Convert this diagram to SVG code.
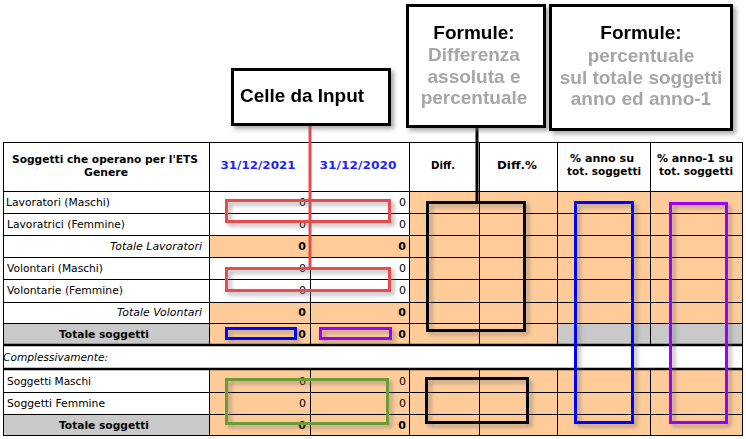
<svg xmlns="http://www.w3.org/2000/svg" width="746" height="439" viewBox="0 0 746 439">
<defs>
<style>
.t{font-family:"DejaVu Sans",Verdana,sans-serif;font-size:11px;fill:#000}
.b{font-weight:bold}
.i{font-style:italic}
.m{text-anchor:middle}
.e{text-anchor:end}
.date{fill:#1f1fff;font-weight:bold}
.or{fill:#ffcc99}
.gr{fill:#c9c9c9}
.wh{fill:#fff}
.grid{stroke:#000;stroke-width:1;fill:none}
.thick{stroke:#000;stroke-width:2.5}
.call{fill:#fff;stroke:#000;stroke-width:3}
.ct{font-family:"Liberation Sans",Arial,sans-serif;font-size:19px;font-weight:bold;text-anchor:middle}
.ctk{fill:#000}
.ctg{fill:#a6a6a6}
.hl{fill:none;stroke-width:3}
</style>
<filter id="sh" x="-20%" y="-20%" width="140%" height="140%">
<feDropShadow dx="3" dy="3" stdDeviation="2" flood-color="#707070" flood-opacity="0.6"/>
</filter>
</defs>
<rect width="746" height="439" fill="#fff"/>

<g id="table">
<!-- fills -->
<rect class="or" x="409" y="191" width="334" height="154"/>
<rect class="or" x="209" y="235" width="200" height="22"/>
<rect class="or" x="209" y="302" width="200" height="43"/>
<rect class="gr" x="3" y="323" width="206" height="22"/>
<rect class="gr" x="557" y="323" width="186" height="22"/>
<rect class="or" x="209" y="369" width="534" height="67"/>
<rect class="gr" x="3" y="414" width="206" height="22"/>
<!-- grid -->
<g class="grid">
<path d="M3 142.5H743M3 191.5H743M3 213.5H743M3 235.5H743M3 257.5H743M3 279.5H743M3 302.5H743M3 323.5H743M3 392.5H743M3 414.5H743M3 435.5H743"/>
<path d="M3.5 142V436M742.5 142V436"/>
<path d="M209.5 142V345M310.5 142V345M409.5 142V345M479.5 142V345M557.5 142V345M650.5 142V345"/>
<path d="M209.5 369V436M310.5 369V436M409.5 369V436M479.5 369V436M557.5 369V436M650.5 369V436"/>
</g>
<path class="thick" d="M3 345H743M3 369H743"/>
<!-- header texts -->
<text class="t b m" x="105" y="163" textLength="186" lengthAdjust="spacingAndGlyphs">Soggetti che operano per l'ETS</text>
<text class="t b m" x="106" y="176" textLength="44" lengthAdjust="spacingAndGlyphs">Genere</text>
<text class="t date m" x="258" y="169" textLength="75" lengthAdjust="spacingAndGlyphs">31/12/2021</text>
<text class="t date m" x="358" y="169" textLength="77" lengthAdjust="spacingAndGlyphs">31/12/2020</text>
<text class="t b m" x="443" y="169" textLength="24" lengthAdjust="spacingAndGlyphs">Diff.</text>
<text class="t b m" x="517" y="169" textLength="40" lengthAdjust="spacingAndGlyphs">Diff.%</text>
<text class="t b m" x="602" y="162" textLength="64" lengthAdjust="spacingAndGlyphs">% anno su</text>
<text class="t b m" x="604" y="175" textLength="74" lengthAdjust="spacingAndGlyphs">tot. soggetti</text>
<text class="t b m" x="695" y="162" textLength="76" lengthAdjust="spacingAndGlyphs">% anno-1 su</text>
<text class="t b m" x="696" y="175" textLength="74" lengthAdjust="spacingAndGlyphs">tot. soggetti</text>
<!-- row labels -->
<text class="t" x="6" y="206" textLength="104" lengthAdjust="spacingAndGlyphs">Lavoratori (Maschi)</text>
<text class="t" x="7" y="228" textLength="118" lengthAdjust="spacingAndGlyphs">Lavoratrici (Femmine)</text>
<text class="t i e" x="202" y="250" textLength="92" lengthAdjust="spacingAndGlyphs">Totale Lavoratori</text>
<text class="t" x="7" y="272" textLength="96" lengthAdjust="spacingAndGlyphs">Volontari (Maschi)</text>
<text class="t" x="7" y="294" textLength="116" lengthAdjust="spacingAndGlyphs">Volontarie (Femmine)</text>
<text class="t i e" x="202" y="316" textLength="85" lengthAdjust="spacingAndGlyphs">Totale Volontari</text>
<text class="t b m" x="104" y="338" textLength="90" lengthAdjust="spacingAndGlyphs">Totale soggetti</text>
<text class="t i" x="3" y="361" textLength="105" lengthAdjust="spacingAndGlyphs">Complessivamente:</text>
<text class="t" x="7" y="385" textLength="84" lengthAdjust="spacingAndGlyphs">Soggetti Maschi</text>
<text class="t" x="7" y="407" textLength="98" lengthAdjust="spacingAndGlyphs">Soggetti Femmine</text>
<text class="t b m" x="104" y="429" textLength="90" lengthAdjust="spacingAndGlyphs">Totale soggetti</text>
<!-- values -->
<g class="t e">
<text x="306" y="206">0</text><text x="406" y="206">0</text>
<text x="306" y="228">0</text><text x="406" y="228">0</text>
<text class="b" x="306" y="250">0</text><text class="b" x="406" y="250">0</text>
<text x="306" y="272">0</text><text x="406" y="272">0</text>
<text x="306" y="294">0</text><text x="406" y="294">0</text>
<text class="b" x="306" y="316">0</text><text class="b" x="406" y="316">0</text>
<text class="b" x="306" y="338">0</text><text class="b" x="406" y="338">0</text>
<text x="306" y="385">0</text><text x="406" y="385">0</text>
<text x="306" y="407">0</text><text x="406" y="407">0</text>
<text class="b" x="306" y="429">0</text><text class="b" x="406" y="429">0</text>
</g>
</g>

<g id="connectors">
<line x1="310" y1="126" x2="310" y2="268" stroke="#e84b4b" stroke-width="3"/>
<line x1="477" y1="128" x2="477" y2="202" stroke="#000" stroke-width="3"/>
</g>

<g id="highlights" filter="url(#sh)">
<rect id="hl-red1" class="hl" x="226.5" y="200.5" width="163" height="21" stroke="#e84b4b"/>
<rect id="hl-red2" class="hl" x="226.5" y="268.5" width="163" height="22" stroke="#e84b4b"/>
<rect id="hl-blue-small" class="hl" x="226.5" y="328.5" width="69" height="10" stroke="#0000ff"/>
<rect id="hl-purple-small" class="hl" x="320.5" y="328.5" width="70" height="10" stroke="#9b00ff"/>
<rect id="hl-green" class="hl" x="226.5" y="379.5" width="161" height="44" stroke="#6b9e34"/>
<rect id="hl-black1" class="hl" x="427.5" y="202.5" width="97" height="128" stroke="#000"/>
<rect id="hl-black2" class="hl" x="426.5" y="378.5" width="101" height="44" stroke="#000"/>
<rect id="hl-blue-tall" class="hl" x="575.5" y="202.5" width="57" height="220" stroke="#0000ff"/>
<rect id="hl-purple-tall" class="hl" x="670.5" y="203.5" width="56" height="219" stroke="#9b00ff"/>
</g>

<g id="callout-input" filter="url(#sh)">
<rect class="call" x="232.5" y="69.5" width="157" height="55"/>
<text class="ct ctk" x="302" y="102" textLength="124" lengthAdjust="spacingAndGlyphs">Celle da Input</text>
</g>

<g id="callout-diff" filter="url(#sh)">
<rect class="call" x="407.5" y="5.5" width="137" height="121"/>
<text class="ct ctk" x="474" y="39">Formule:</text>
<text class="ct ctg" x="474" y="61">Differenza</text>
<text class="ct ctg" x="474" y="82.5">assoluta e</text>
<text class="ct ctg" x="474" y="104">percentuale</text>
</g>

<g id="callout-perc" filter="url(#sh)">
<rect class="call" x="550.5" y="5.5" width="181" height="124"/>
<text class="ct ctk" x="641" y="39">Formule:</text>
<text class="ct ctg" x="641" y="62">percentuale</text>
<text class="ct ctg" x="641" y="83.5">sul totale soggetti</text>
<text class="ct ctg" x="641" y="105">anno ed anno-1</text>
</g>
</svg>
